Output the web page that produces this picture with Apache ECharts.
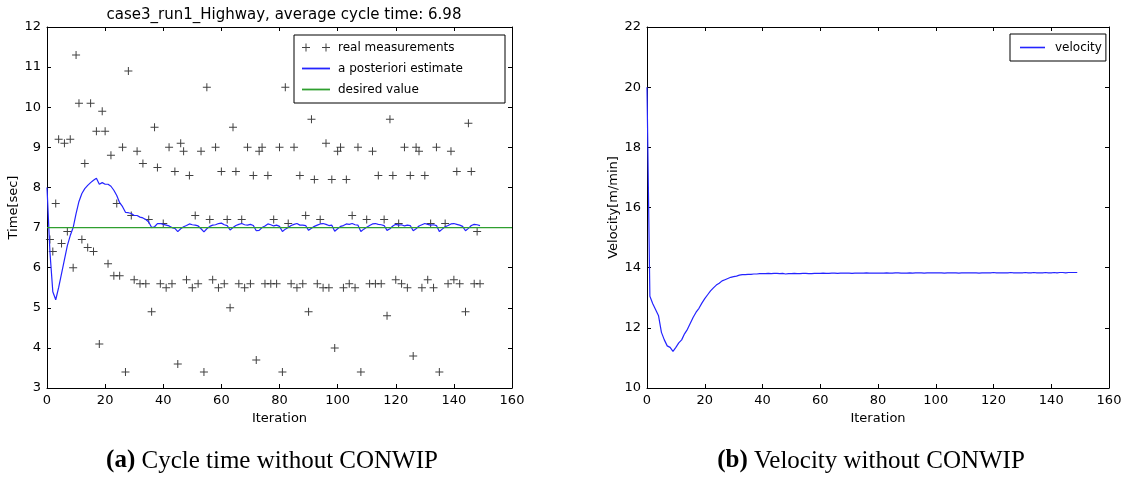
<!DOCTYPE html>
<html>
<head>
<meta charset="utf-8">
<script src="https://cdn.jsdelivr.net/npm/echarts@6/dist/echarts.min.js"></script>
<style>
  html, body { margin: 0; padding: 0; background: #fff; }
  #chart { width: 1131px; height: 477px; }
</style>
</head>
<body>
<div id="chart"></div>
<script>
// real measurements (cycle time per iteration, null = not visible)
const measured = [
  null, 6.7, 6.4, 7.6, 9.2, 6.6, 9.1, 6.9, 9.2, 6.0,
  11.3, 10.1, 6.7, 8.6, 6.5, 10.1, 6.4, 9.4, 4.1, 9.9,
  9.4, 6.1, 8.8, 5.8, 7.6, 5.8, 9.0, 3.4, 10.9, 7.3,
  5.7, 8.9, 5.6, 8.6, 5.6, 7.2, 4.9, 9.5, 8.5, 5.6,
  7.1, 5.5, 9.0, 5.6, 8.4, 3.6, 9.1, 8.9, 5.7, 8.3,
  5.5, 7.3, 5.6, 8.9, 3.4, 10.5, 7.2, 5.7, 9.0, 5.5,
  8.4, 5.6, 7.2, 5.0, 9.5, 8.4, 5.6, 7.2, 5.5, 9.0,
  5.6, 8.3, 3.7, 8.9, 9.0, 5.6, 8.3, 5.6, 7.2, 5.6,
  9.0, 3.4, 10.5, 7.1, 5.6, 9.0, 5.5, 8.3, 5.6, 7.3,
  4.9, 9.7, 8.2, 5.6, 7.2, 5.5, 9.1, 5.5, 8.2, 4.0,
  8.9, 9.0, 5.5, 8.2, 5.6, 7.3, 5.5, 9.0, 3.4, null,
  7.2, 5.6, 8.9, 5.6, 8.3, 5.6, 7.2, 4.8, 9.7, 8.3,
  5.7, 7.1, 5.6, 9.0, 5.5, 8.3, 3.8, 9.0, 8.9, 5.5,
  8.3, 5.7, 7.1, 5.5, 9.0, 3.4, null, 7.1, 5.6, 8.9,
  5.7, 8.4, 5.6, null, 4.9, 9.6, 8.4, 5.6, 6.9, 5.6
]

// a posteriori estimate
const estimate = [
  8.0, 6.4, 5.4, 5.2, 5.5, 5.85, 6.2, 6.55, 6.8, 7.0,
  7.35, 7.65, 7.85, 7.97, 8.05, 8.12, 8.18, 8.23, 8.08, 8.12,
  8.08, 8.08, 8.03, 7.93, 7.8, 7.62, 7.52, 7.38, 7.37, 7.35,
  7.3, 7.3, 7.26, 7.24, 7.2, 7.14, 7.0, 7.02, 7.1, 7.1,
  7.08, 7.06, 7.04, 7.0, 6.98, 6.9, 6.97, 7.02, 7.05, 7.09,
  7.07, 7.06, 7.04, 6.97, 6.89, 6.97, 7.03, 7.06, 7.07, 7.1,
  7.11, 7.07, 7.05, 6.94, 7.0, 7.05, 7.08, 7.1, 7.07, 7.06,
  7.08, 7.05, 6.92, 6.93, 7.0, 7.04, 7.09, 7.07, 7.04, 7.06,
  7.03, 6.9, 6.96, 7.0, 7.05, 7.08, 7.1, 7.06, 7.06, 7.05,
  6.93, 6.98, 7.03, 7.06, 7.09, 7.1, 7.08, 7.05, 7.06, 6.91,
  6.97, 7.03, 7.05, 7.09, 7.08, 7.1, 7.07, 7.06, 6.9, 6.96,
  7.01, 7.05, 7.09, 7.1, 7.08, 7.07, 7.05, 6.93, 6.97, 7.04,
  7.08, 7.06, 7.07, 7.04, 7.06, 7.05, 6.92, 6.97, 7.04, 7.07,
  7.1, 7.08, 7.06, 7.07, 7.05, 6.9, 6.96, 7.02, 7.05, 7.09,
  7.1, 7.08, 7.06, 7.03, 6.92, 6.98, 7.05, 7.08, 7.07, 7.05
]

// desired value line
const desiredX = [0, 160]
const desiredY = [7, 7]

// velocity [m/min]
const velocity = [
  20.0, 13.05, 12.8, 12.6, 12.4, 11.85, 11.6, 11.4, 11.35, 11.22,
  11.35, 11.5, 11.6, 11.8, 11.95, 12.15, 12.35, 12.52, 12.65, 12.82,
  12.97, 13.1, 13.23, 13.33, 13.42, 13.48, 13.56, 13.6, 13.64, 13.68,
  13.7, 13.72, 13.75, 13.77, 13.77, 13.78, 13.78, 13.79, 13.79, 13.80,
  13.80, 13.80, 13.81, 13.80, 13.81, 13.81, 13.80, 13.81, 13.79, 13.80,
  13.80, 13.81, 13.80, 13.80, 13.81, 13.81, 13.80, 13.80, 13.81, 13.81,
  13.81, 13.82, 13.81, 13.81, 13.82, 13.82, 13.81, 13.82, 13.82, 13.82,
  13.82, 13.81, 13.82, 13.82, 13.82, 13.82, 13.83, 13.82, 13.82, 13.82,
  13.82, 13.82, 13.82, 13.83, 13.82, 13.82, 13.83, 13.83, 13.82, 13.82,
  13.82, 13.83, 13.82, 13.83, 13.83, 13.83, 13.82, 13.83, 13.83, 13.83,
  13.83, 13.83, 13.83, 13.82, 13.83, 13.83, 13.83, 13.83, 13.82, 13.83,
  13.83, 13.83, 13.83, 13.83, 13.83, 13.82, 13.83, 13.83, 13.83, 13.83,
  13.84, 13.83, 13.83, 13.83, 13.83, 13.83, 13.84, 13.83, 13.83, 13.83,
  13.83, 13.84, 13.83, 13.83, 13.84, 13.83, 13.83, 13.83, 13.84, 13.83,
  13.83, 13.84, 13.83, 13.84, 13.84, 13.83, 13.84, 13.84, 13.84, 13.84
]

const FONT = 'DejaVu Sans'
const BLUE = '#2424ff'
const GREEN = '#2f9f2f'
const PLUS = 'path://M0,3.5h8v1h-8z M3.5,0h1v8h-1z'
const PLUS2 = 'path://M0,3.5h8v1h-8z M3.5,0h1v8h-1z M20,3.5h8v1h-8z M23.5,0h1v8h-1z'
const LINEICON = 'path://M0,3.2h25v1.6h-25z'

const measData = measured.map((v, i) => v == null ? null : [i, v]).filter(Boolean)
const estData = estimate.map((v, i) => [i, v])
const desData = desiredX.map((x, i) => [x, desiredY[i]])
const velData = velocity.map((v, i) => [i, v])

function xAx (grid, pos, name) {
  return {
    type: 'value', gridIndex: grid, position: pos, min: 0, max: 160, interval: 20,
    name: name, nameLocation: 'middle', nameGap: 20,
    nameTextStyle: { fontFamily: FONT, fontSize: 13, color: '#000' },
    axisLine: { show: true, onZero: false, lineStyle: { color: '#000', width: 1 } },
    axisTick: { show: true, inside: true, length: 4, lineStyle: { color: '#000' } },
    axisLabel: { show: pos === 'bottom', margin: 6, fontFamily: FONT, fontSize: 13, color: '#000' },
    splitLine: { show: false }
  }
}
function yAx (grid, pos, min, max, step, name, gap) {
  return {
    type: 'value', gridIndex: grid, position: pos, min: min, max: max, interval: step,
    name: name, nameLocation: 'middle', nameGap: gap,
    nameTextStyle: { fontFamily: FONT, fontSize: 13, color: '#000' },
    axisLine: { show: true, onZero: false, lineStyle: { color: '#000', width: 1 } },
    axisTick: { show: true, inside: true, length: 4, lineStyle: { color: '#000' } },
    axisLabel: { show: pos === 'left', margin: 6, fontFamily: FONT, fontSize: 13, color: '#000' },
    splitLine: { show: false }
  }
}

const chart = echarts.init(document.getElementById('chart'), null, { renderer: 'canvas' })
chart.setOption({
  animation: false,
  backgroundColor: '#fff',
  title: {
    text: 'case3_run1_Highway, average cycle time: 6.98',
    left: 279, top: 3, textAlign: 'center',
    textStyle: { fontFamily: FONT, fontSize: 15, fontWeight: 'normal', color: '#000' }
  },
  grid: [
    { left: 47, top: 27, width: 465, height: 361, show: false },
    { left: 647, top: 27, width: 462, height: 361, show: false }
  ],
  xAxis: [xAx(0, 'bottom', 'Iteration'), xAx(0, 'top', ''), xAx(1, 'bottom', 'Iteration'), xAx(1, 'top', '')],
  yAxis: [
    yAx(0, 'left', 3, 12, 1, 'Time[sec]', 25),
    yAx(0, 'right', 3, 12, 1, '', 20),
    yAx(1, 'left', 10, 22, 2, 'Velocity[m/min]', 26),
    yAx(1, 'right', 10, 22, 2, '', 20)
  ],
  legend: [
    {
      orient: 'vertical', left: 294, top: 35,
      padding: [5, 38, 6, 8], itemGap: 6, itemWidth: 28, itemHeight: 8,
      borderColor: '#000', borderWidth: 1, backgroundColor: '#fff',
      textStyle: { fontFamily: FONT, fontSize: 12, color: '#000', lineHeight: 15, width: 129, padding: [0, 0, 0, 3] },
      data: [
        { name: 'real measurements', icon: PLUS2, itemStyle: { color: '#111', borderWidth: 0 } },
        { name: 'a posteriori estimate', icon: LINEICON, itemStyle: { color: BLUE, borderWidth: 0 } },
        { name: 'desired value', icon: LINEICON, itemStyle: { color: GREEN, borderWidth: 0 } }
      ]
    },
    {
      orient: 'vertical', left: 1010, top: 34,
      padding: [6, 4, 6, 10], itemWidth: 25, itemHeight: 8,
      borderColor: '#000', borderWidth: 1, backgroundColor: '#fff',
      textStyle: { fontFamily: FONT, fontSize: 12, color: '#000', lineHeight: 15, padding: [0, 0, 0, 5] },
      data: [{ name: 'velocity', icon: LINEICON, itemStyle: { color: BLUE, borderWidth: 0 } }]
    }
  ],
  series: [
    {
      name: 'real measurements', type: 'scatter', xAxisIndex: 0, yAxisIndex: 0,
      symbol: PLUS, symbolSize: 8, itemStyle: { color: '#111' }, data: measData
    },
    {
      name: 'a posteriori estimate', type: 'line', xAxisIndex: 0, yAxisIndex: 0,
      showSymbol: false, lineStyle: { color: BLUE, width: 1.2 }, itemStyle: { color: BLUE },
      data: estData
    },
    {
      name: 'desired value', type: 'line', xAxisIndex: 0, yAxisIndex: 0,
      showSymbol: false, lineStyle: { color: GREEN, width: 1.2 }, itemStyle: { color: GREEN },
      data: desData
    },
    {
      name: 'velocity', type: 'line', xAxisIndex: 2, yAxisIndex: 2,
      showSymbol: false, lineStyle: { color: BLUE, width: 1.2 }, itemStyle: { color: BLUE },
      data: velData
    }
  ],
  graphic: [
    {
      type: 'text', x: 272, y: 461,
      style: {
        text: '{b|(a)} Cycle time without CONWIP',
        align: 'center', verticalAlign: 'middle',
        font: '25px "Liberation Serif"', fill: '#000',
        rich: { b: { fontWeight: 'bold', fontFamily: 'Liberation Serif', fontSize: 25 } }
      }
    },
    {
      type: 'text', x: 871, y: 461,
      style: {
        text: '{b|(b)} Velocity without CONWIP',
        align: 'center', verticalAlign: 'middle',
        font: '25px "Liberation Serif"', fill: '#000',
        rich: { b: { fontWeight: 'bold', fontFamily: 'Liberation Serif', fontSize: 25 } }
      }
    }
  ]
})
</script>
</body>
</html>
